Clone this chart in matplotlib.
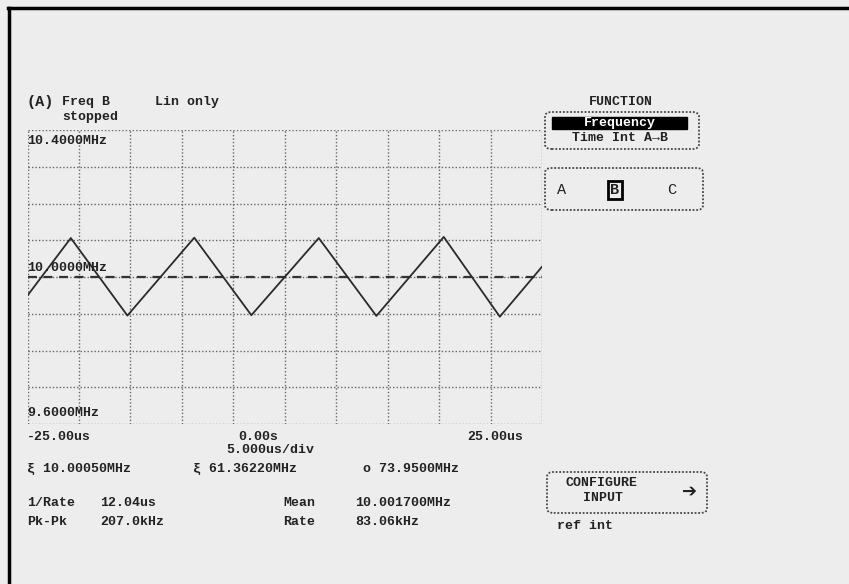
import numpy as np
import matplotlib
matplotlib.use("Agg")
import matplotlib.pyplot as plt
from matplotlib.patches import FancyBboxPatch, Rectangle

W, H = 849, 584

# trace: triangle frequency modulation
wave_t = [-25.0, -20.8, -15.3, -8.8, -3.25, 3.3, 8.9, 15.45, 20.9, 25.0]  # us
wave_f = [9.950, 10.106, 9.895, 10.107, 9.896, 10.106, 9.894, 10.109, 9.892, 10.028]  # MHz

x_min, x_max, x_div = -25.0, 25.0, 5.0
y_min, y_max, y_div = 9.6, 10.4, 0.1
y_ref = 10.0

y_labels = ["10.4000MHz", "10.0000MHz", "9.6000MHz"]
x_labels = ["-25.00us", "0.00s", "25.00us"]
markers = ["\u03be 10.00050MHz", "\u03be 61.36220MHz", "o 73.9500MHz"]
stat_names = ["1/Rate", "Pk-Pk", "Mean", "Rate"]
stat_values = ["12.04us", "207.0kHz", "10.001700MHz", "83.06kHz"]

FONT = dict(family="Liberation Mono", weight="bold", size=9.5, color="#222222")
bg = "#ededed"


def fx(x):
    return x / W


def fy(y):
    return 1 - y / H


def label(x, y, s, ha="left", **kw):
    opts = dict(FONT)
    opts.update(kw)
    fig.text(fx(x), fy(y), s, ha=ha, va="center", **opts)


def rbox(x0, y0, x1, y1):
    p = FancyBboxPatch((fx(x0), fy(y1)), fx(x1 - x0), (y1 - y0) / H,
                       boxstyle="round,pad=0,rounding_size=0.008",
                       transform=fig.transFigure, fill=False,
                       ec="#444444", lw=1.3, ls=(0, (1, 1)))
    fig.patches.append(p)


fig = plt.figure(figsize=(W / 100, H / 100), dpi=100, facecolor=bg)

# outer frame (top and left edge visible in the scan)
fig.add_artist(plt.Line2D([fx(8), 1], [fy(8), fy(8)], color="black", lw=2.5,
                          transform=fig.transFigure))
fig.add_artist(plt.Line2D([fx(9), fx(9)], [fy(8), 0], color="black", lw=2.5,
                          transform=fig.transFigure))

ax = fig.add_axes([fx(27.6), fy(424), fx(542 - 27.6), (424 - 130) / H])
ax.set_facecolor("none")
ax.set_xlim(x_min, x_max)
ax.set_ylim(y_min, y_max)
ax.set_xticks(np.arange(x_min, x_max + 0.01, x_div))
ax.set_yticks(np.arange(y_min, y_max + 0.001, y_div))
ax.tick_params(length=0, labelbottom=False, labelleft=False)
ax.grid(True, color="#666666", ls=(0, (1, 1.5)), lw=1.0)
for s in ax.spines.values():
    s.set_visible(False)
ax.axhline(y_ref, color="#333333", lw=1.6, ls=(0, (4, 3)))
ax.plot(wave_t, wave_f, color="#2a2a2a", lw=1.3)

# header
label(27, 102, "(A)", size=11)
label(62, 102, "Freq B")
label(155, 102, "Lin only")
label(62, 117, "stopped")

# amplitude labels on the grid
label(27, 141, y_labels[0])
label(27, 268, y_labels[1])
label(27, 413, y_labels[2])

# time axis labels
label(27, 437, x_labels[0])
label(258, 437, x_labels[1], ha="center")
label(523, 437, x_labels[2], ha="right")
label(270, 450, "5.000us/div", ha="center")

# markers
label(27, 469, markers[0])
label(193, 469, markers[1])
label(363, 469, markers[2])

# statistics
label(27, 503, stat_names[0])
label(100, 503, stat_values[0])
label(27, 522, stat_names[1])
label(100, 522, stat_values[1])
label(283, 503, stat_names[2])
label(355, 503, stat_values[2])
label(283, 522, stat_names[3])
label(355, 522, stat_values[3])

# softkey menu
label(621, 102, "FUNCTION", ha="center")
rbox(545, 112, 699, 149)
fig.patches.append(Rectangle((fx(552), fy(129)), fx(687 - 552), 12 / H,
                             transform=fig.transFigure, color="black"))
label(620, 123, "Frequency", ha="center", color="white")
label(620, 138, "Time Int A\u2192B", ha="center",
      family=["Liberation Mono", "DejaVu Sans Mono"])

rbox(545, 168, 703, 210)
label(562, 190, "A", ha="center", size=11, weight="normal")
label(615, 190, "B", ha="center", size=11,
      bbox=dict(boxstyle="square,pad=0.15", fc="none", ec="black", lw=2))
label(672, 190, "C", ha="center", size=11, weight="normal")

rbox(547, 472, 707, 513)
label(602, 483, "CONFIGURE", ha="center")
label(603, 498, "INPUT", ha="center")
label(690, 492, "\u2794", ha="center", family="DejaVu Sans", size=13)
label(557, 526, "ref int")

fig.savefig("out.png", dpi=100, facecolor=bg)
